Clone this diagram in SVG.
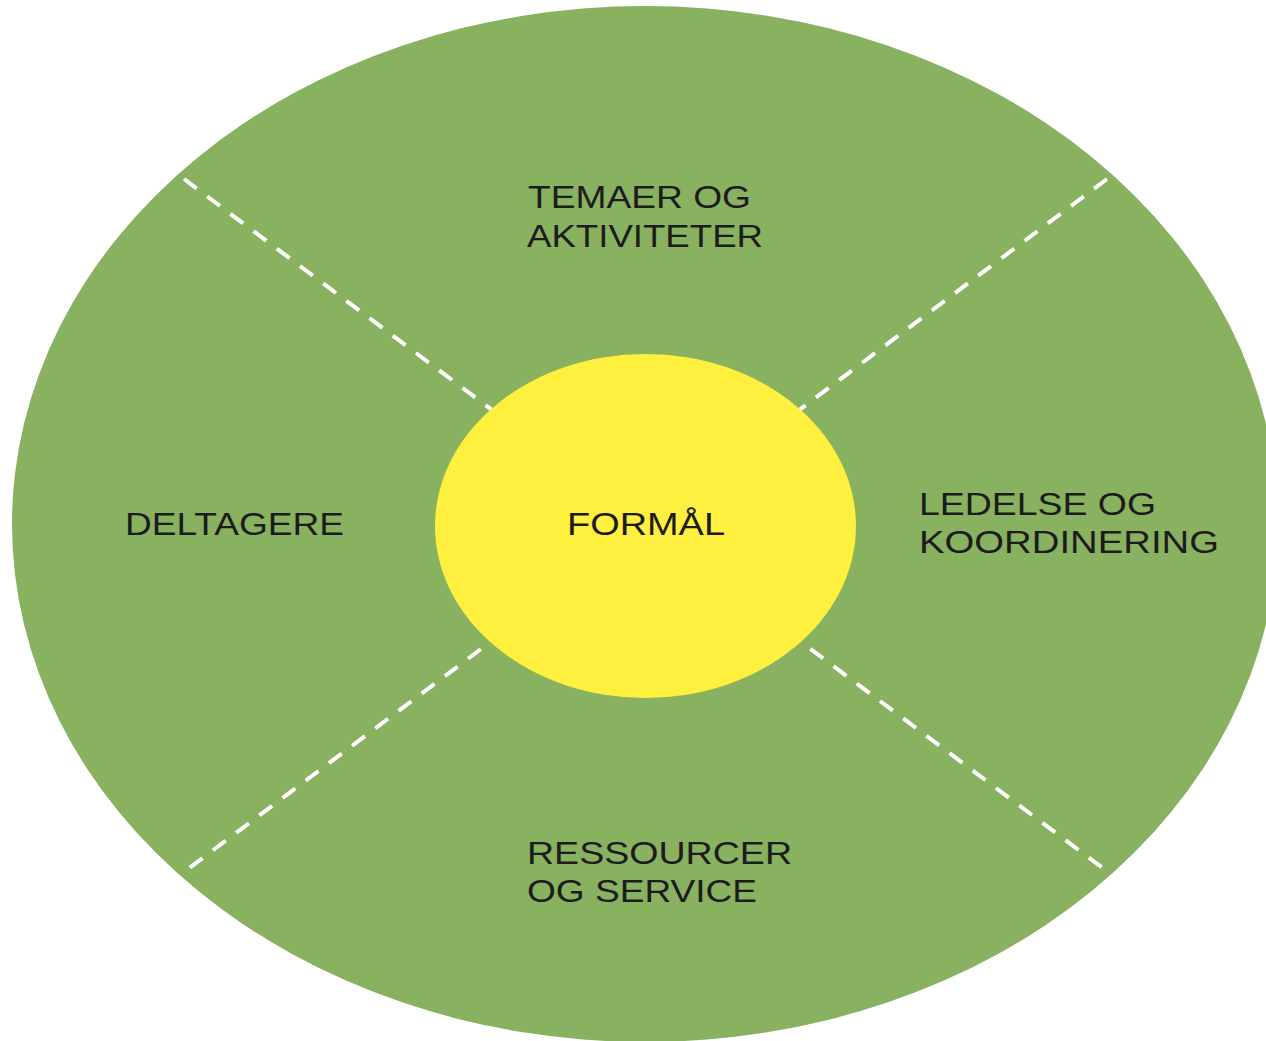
<svg xmlns="http://www.w3.org/2000/svg" width="1266" height="1041" viewBox="0 0 1266 1041">
<style>
.lbl{font-family:"Liberation Sans",Arial,sans-serif;font-size:32px;fill:#1c1c1c}
.dash{stroke:#ffffff;stroke-width:4;stroke-dasharray:16 13;fill:none}
</style>
<rect width="1266" height="1041" fill="#ffffff"/>
<g id="outer">
<ellipse cx="645" cy="524" rx="633" ry="518" fill="#88b160"/>
</g>
<g id="connectors">
<line class="dash" x1="184" y1="179" x2="1112" y2="875"/>
<line class="dash" x1="1107" y1="179" x2="180" y2="875"/>
</g>
<g id="center">
<ellipse cx="645.5" cy="526" rx="210.5" ry="172" fill="#ffef3e"/>
<text class="lbl" x="567" y="535" textLength="158" lengthAdjust="spacingAndGlyphs">FORMÅL</text>
</g>
<g id="top">
<text class="lbl" x="528" y="208" textLength="223" lengthAdjust="spacingAndGlyphs">TEMAER OG</text>
<text class="lbl" x="527" y="247" textLength="236" lengthAdjust="spacingAndGlyphs">AKTIVITETER</text>
</g>
<g id="right">
<text class="lbl" x="919" y="515" textLength="237" lengthAdjust="spacingAndGlyphs">LEDELSE OG</text>
<text class="lbl" x="919" y="553" textLength="300" lengthAdjust="spacingAndGlyphs">KOORDINERING</text>
</g>
<g id="left">
<text class="lbl" x="125" y="535" textLength="219" lengthAdjust="spacingAndGlyphs">DELTAGERE</text>
</g>
<g id="bottom">
<text class="lbl" x="527" y="864" textLength="265" lengthAdjust="spacingAndGlyphs">RESSOURCER</text>
<text class="lbl" x="527" y="902" textLength="230" lengthAdjust="spacingAndGlyphs">OG SERVICE</text>
</g>
</svg>
